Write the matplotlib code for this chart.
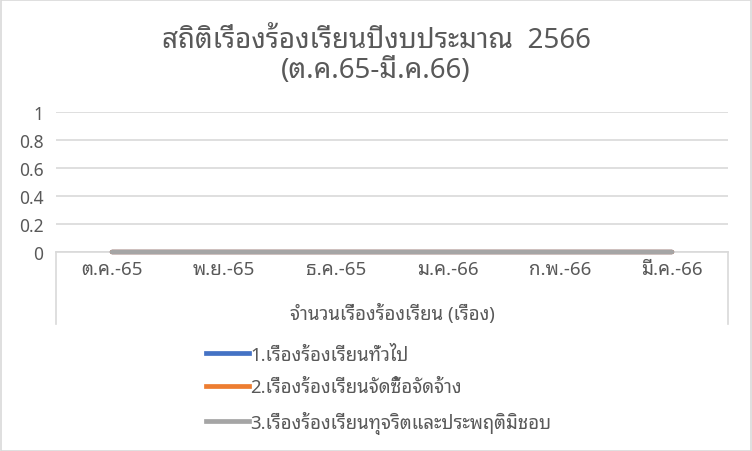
import matplotlib
matplotlib.use("Agg")
import matplotlib.pyplot as plt
from matplotlib.lines import Line2D

# ---------------- data ----------------
categories = ["ต.ค.-65", "พ.ย.-65", "ธ.ค.-65", "ม.ค.-66", "ก.พ.-66", "มี.ค.-66"]
series_names = ["1.เรื่องร้องเรียนทั่วไป",
                "2.เรื่องร้องเรียนจัดซื้อจัดจ้าง",
                "3.เรื่องร้องเรียนทุจริตและประพฤติมิชอบ"]
general = [0, 0, 0, 0, 0, 0]
procurement = [0, 0, 0, 0, 0, 0]
corruption = [0, 0, 0, 0, 0, 0]
y_ticks = [0, 0.2, 0.4, 0.6, 0.8, 1]
y_tick_labels = ["0", "0.2", "0.4", "0.6", "0.8", "1"]
title = "สถิติเรื่องร้องเรียนปีงบประมาณ  2566\n(ต.ค.65-มี.ค.66)"
x_title = "จำนวนเรื่องร้องเรียน (เรื่อง)"

plt.rcParams["font.family"] = ["Noto Sans Thai Looped", "Noto Sans", "DejaVu Sans"]

text_color = "#595959"
grid_color = "#D9D9D9"
colors = ["#4472C4", "#ED7D31", "#A5A5A5"]

W, H = 752, 452
fig = plt.figure(figsize=(W / 100, H / 100), dpi=100)
fig.patch.set_facecolor("white")
fig.add_artist(plt.Rectangle((0.5 / W, 0.5 / H), 1 - 1.5 / W, 1 - 1.5 / H,
                             transform=fig.transFigure, fill=False,
                             edgecolor="#D9D9D9", linewidth=1.2))

x0, x1 = 56, 728
ytop, ybot = 113, 253
ax = fig.add_axes([x0 / W, 1 - ybot / H, (x1 - x0) / W, (ybot - ytop) / H])

xs = list(range(len(categories)))
for vals, c, name in zip([general, procurement, corruption], colors, series_names):
    ax.plot(xs, vals, color=c, linewidth=3.2, solid_capstyle="round", label=name,
            zorder=3, clip_on=False)

ax.set_xlim(-0.5, len(categories) - 0.5)
ax.set_ylim(0, 1)
ax.set_yticks(y_ticks)
ax.set_yticklabels(y_tick_labels)
ax.set_xticks(xs)
ax.set_xticklabels(categories)
ax.tick_params(axis="both", length=0, colors=text_color)
ax.tick_params(axis="x", pad=6, labelsize=13.5)
ax.tick_params(axis="y", pad=9, labelsize=12.5)
ax.grid(axis="y", color=grid_color, linewidth=1.2)
ax.set_axisbelow(True)
for s in ["top", "right", "left"]:
    ax.spines[s].set_visible(False)
ax.spines["bottom"].set_color(grid_color)
ax.spines["bottom"].set_linewidth(1.2)

box_depth = (325 - ybot) / (ybot - ytop)
for xv in (0, 1):
    ax.add_line(Line2D([xv, xv], [0, -box_depth], transform=ax.transAxes,
                       color=grid_color, linewidth=1.2, clip_on=False))

ax.text(0.5, -(314 - ybot) / (ybot - ytop), x_title, transform=ax.transAxes,
        ha="center", va="center", fontsize=13.4, color=text_color)

fig.text(376 / W, 1 - 56 / H, title, ha="center", va="center",
         fontsize=20, color=text_color, linespacing=1.1)

handles = [Line2D([0], [0], color=c, linewidth=3.4) for c in colors]
leg = fig.legend(handles, series_names, loc="upper left",
                 bbox_to_anchor=(189 / W, 1 - 330 / H), frameon=False,
                 fontsize=13.4, labelcolor=text_color, handlelength=2.3,
                 handletextpad=0.08, labelspacing=0.78)

fig.savefig("out.png", dpi=100)
